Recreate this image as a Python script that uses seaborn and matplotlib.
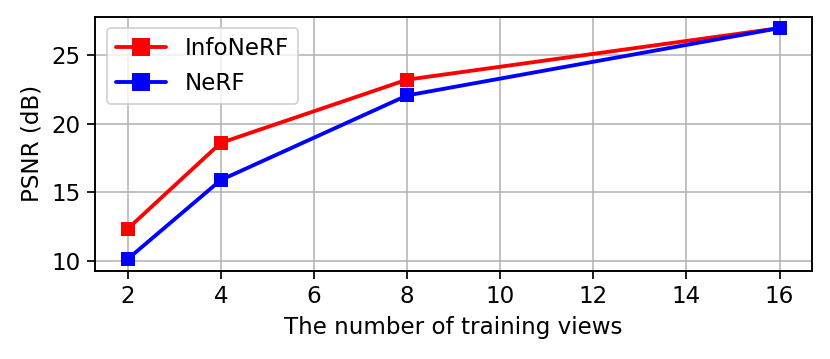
import matplotlib
matplotlib.use("Agg")
import matplotlib.pyplot as plt
import seaborn as sns
import pandas as pd

views = [2, 4, 8, 16]
infonerf = [12.35, 18.6, 23.2, 26.95]
nerf = [10.15, 15.9, 22.05, 26.95]
methods = ["InfoNeRF", "NeRF"]
colors = ["#ff0000", "#0000ff"]

df = pd.DataFrame({
    "views": views * 2,
    "psnr": infonerf + nerf,
    "method": [methods[0]] * len(views) + [methods[1]] * len(views),
})

sns.set_style("ticks")
plt.rcParams["font.family"] = ["DejaVu Sans"]
plt.rcParams["text.color"] = "black"
plt.rcParams["axes.labelcolor"] = "black"

fig = plt.figure(figsize=(830 / 138, 359 / 138), dpi=138)
ax = fig.add_axes([0.1145, 0.246, 0.864, 0.708])
sns.lineplot(data=df, x="views", y="psnr", hue="method", palette=colors,
             marker="s", markersize=7.5, markeredgewidth=0, linewidth=2, ax=ax)
ax.grid(True, color="#b0b0b0", linewidth=0.8)
ax.set_xticks([2, 4, 6, 8, 10, 12, 14, 16])
ax.set_yticks([10, 15, 20, 25])
ax.set_xlabel("The number of training views", fontsize=12, color="black")
ax.set_ylabel("PSNR (dB)", fontsize=12, color="black")
for s in ax.spines.values():
    s.set_color("black")
    s.set_linewidth(1.0)
ax.tick_params(colors="black", labelcolor="black", labelsize=12, direction="out", length=4, width=0.9)
leg = ax.legend(loc="upper left", fontsize=12, frameon=True, handlelength=2.2, markerscale=1.2)
leg.get_frame().set_edgecolor("#cccccc")
for t in leg.get_texts():
    t.set_color("black")
fig.savefig("out.png", dpi=138)
